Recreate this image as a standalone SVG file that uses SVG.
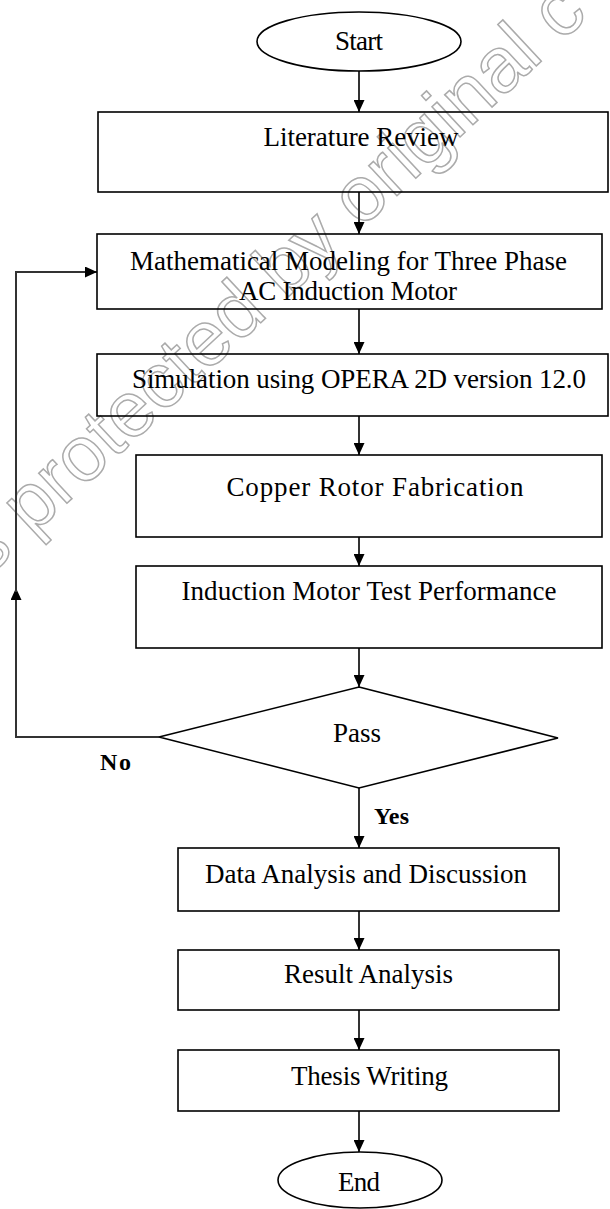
<svg xmlns="http://www.w3.org/2000/svg" width="610" height="1209" viewBox="0 0 610 1209">
<style>
.box{fill:none;stroke:#000;stroke-width:1.6}
.t{font-family:"Liberation Serif","Times New Roman",serif;font-size:27px;fill:#000;text-anchor:middle}
.b{font-family:"Liberation Serif","Times New Roman",serif;font-size:24px;font-weight:bold;fill:#000}
.c{fill:none;stroke:#333;stroke-width:2}
.wm{font-family:"Liberation Sans",Arial,sans-serif;font-size:78px;fill:none;stroke:#ababab;stroke-width:1.5}
</style>
<defs>
<marker id="ah" markerUnits="userSpaceOnUse" markerWidth="12" markerHeight="11" refX="12" refY="5.5" orient="auto">
<path d="M0,0 L12,5.5 L0,11 z" fill="#000"/>
</marker>
</defs>
<rect width="610" height="1209" fill="#fff"/>
<text class="wm" x="-13" y="578" transform="rotate(-43 -13 578)">s protected by original c</text>
<g id="connectors">
<path class="c" d="M359,71 V112" marker-end="url(#ah)"/>
<path class="c" d="M359,192 V234" marker-end="url(#ah)"/>
<path class="c" d="M359,309 V354" marker-end="url(#ah)"/>
<path class="c" d="M359,416 V455" marker-end="url(#ah)"/>
<path class="c" d="M359,537 V566" marker-end="url(#ah)"/>
<path class="c" d="M359,648 V687" marker-end="url(#ah)"/>
<path class="c" d="M359,788 V848" marker-end="url(#ah)"/>
<path class="c" d="M359,911 V950" marker-end="url(#ah)"/>
<path class="c" d="M359,1010 V1050" marker-end="url(#ah)"/>
<path class="c" d="M359,1111 V1152" marker-end="url(#ah)"/>
<path class="c" d="M159,737 H16 V588" marker-end="url(#ah)"/>
<path class="c" d="M16,592 V272 H97" marker-end="url(#ah)"/>
<text class="b" x="100" y="770" textLength="31">No</text>
<text class="b" x="374" y="824" textLength="35">Yes</text>
</g>
<g id="start"><ellipse class="box" cx="359" cy="41.5" rx="102" ry="29.5"/><text class="t" x="359" y="50" textLength="48">Start</text></g>
<g id="literature"><rect class="box" x="98" y="112" width="510" height="80"/><text class="t" x="361" y="146" textLength="195">Literature Review</text></g>
<g id="modeling"><rect class="box" x="97" y="234" width="505" height="75"/><text class="t" x="348.5" y="270" textLength="437">Mathematical Modeling for Three Phase</text><text class="t" x="348" y="300" textLength="218">AC Induction Motor</text></g>
<g id="simulation"><rect class="box" x="97" y="354" width="511" height="62"/><text class="t" x="359" y="388" textLength="454">Simulation using OPERA 2D version 12.0</text></g>
<g id="copper"><rect class="box" x="136" y="455" width="466" height="82"/><text class="t" x="375" y="496" textLength="297">Copper Rotor Fabrication</text></g>
<g id="test"><rect class="box" x="136" y="566" width="466" height="82"/><text class="t" x="369" y="600" textLength="375">Induction Motor Test Performance</text></g>
<g id="pass"><polygon class="box" points="359,687 558,738 359,788 159,737"/><text class="t" x="357" y="742" textLength="48">Pass</text></g>
<g id="data"><rect class="box" x="178" y="848" width="381" height="63"/><text class="t" x="366" y="883" textLength="322">Data Analysis and Discussion</text></g>
<g id="result"><rect class="box" x="178" y="950" width="381" height="60"/><text class="t" x="368.5" y="983" textLength="169">Result Analysis</text></g>
<g id="thesis"><rect class="box" x="178" y="1050" width="381" height="61"/><text class="t" x="369.5" y="1085" textLength="157">Thesis Writing</text></g>
<g id="end"><ellipse class="box" cx="360" cy="1180" rx="82" ry="28"/><text class="t" x="359" y="1191" textLength="42">End</text></g>
</svg>
